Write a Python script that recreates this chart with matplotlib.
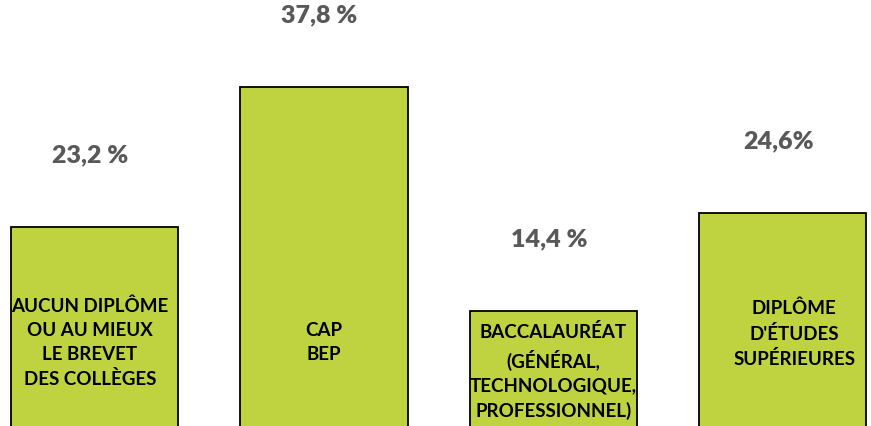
import matplotlib.pyplot as plt

# niveaux de diplome et parts en %
categories = ["AUCUN DIPLÔME\nOU AU MIEUX\nLE BREVET\nDES COLLÈGES",
              "CAP\nBEP",
              "BACCALAURÉAT\n(GÉNÉRAL,\nTECHNOLOGIQUE,\nPROFESSIONNEL)",
              "DIPLÔME\nD'ÉTUDES\nSUPÉRIEURES"]
valeurs = [23.2, 37.8, 14.4, 24.6]
etiquettes = ["23,2 %", "37,8 %", "14,4 %", "24,6%"]

plt.rcParams['font.family'] = ['Lato', 'DejaVu Sans']

fig = plt.figure(figsize=(8.71, 4.27), dpi=100)
ax = fig.add_axes([0, 0, 1, 1])

x = range(len(valeurs))
ax.bar(x, valeurs, width=0.728, color='#BFD341', edgecolor='black', linewidth=1.3)

# position des libelles dans les barres (decalage x, hauteur y)
dx_lib = [-0.02, 0, 0, 0.05]
y_lib = [11.2, 11.2, 8.2, 12.1]

for i, v in enumerate(valeurs):
    # pourcentage au-dessus de la barre
    ax.text(i - 0.02, v + 7.6, etiquettes[i], ha='center', va='center',
            fontsize=18, fontweight='heavy', color='#595959')
    # libelle dans la barre
    ax.text(i + dx_lib[i], y_lib[i], categories[i], ha='center', va='center',
            fontsize=13.5, fontweight='bold', color='black', linespacing=1.5)

ax.set_xlim(-0.412, 3.384)
ax.set_ylim(2.4, 47.0)
ax.axis('off')

fig.savefig('out.png', dpi=100)
